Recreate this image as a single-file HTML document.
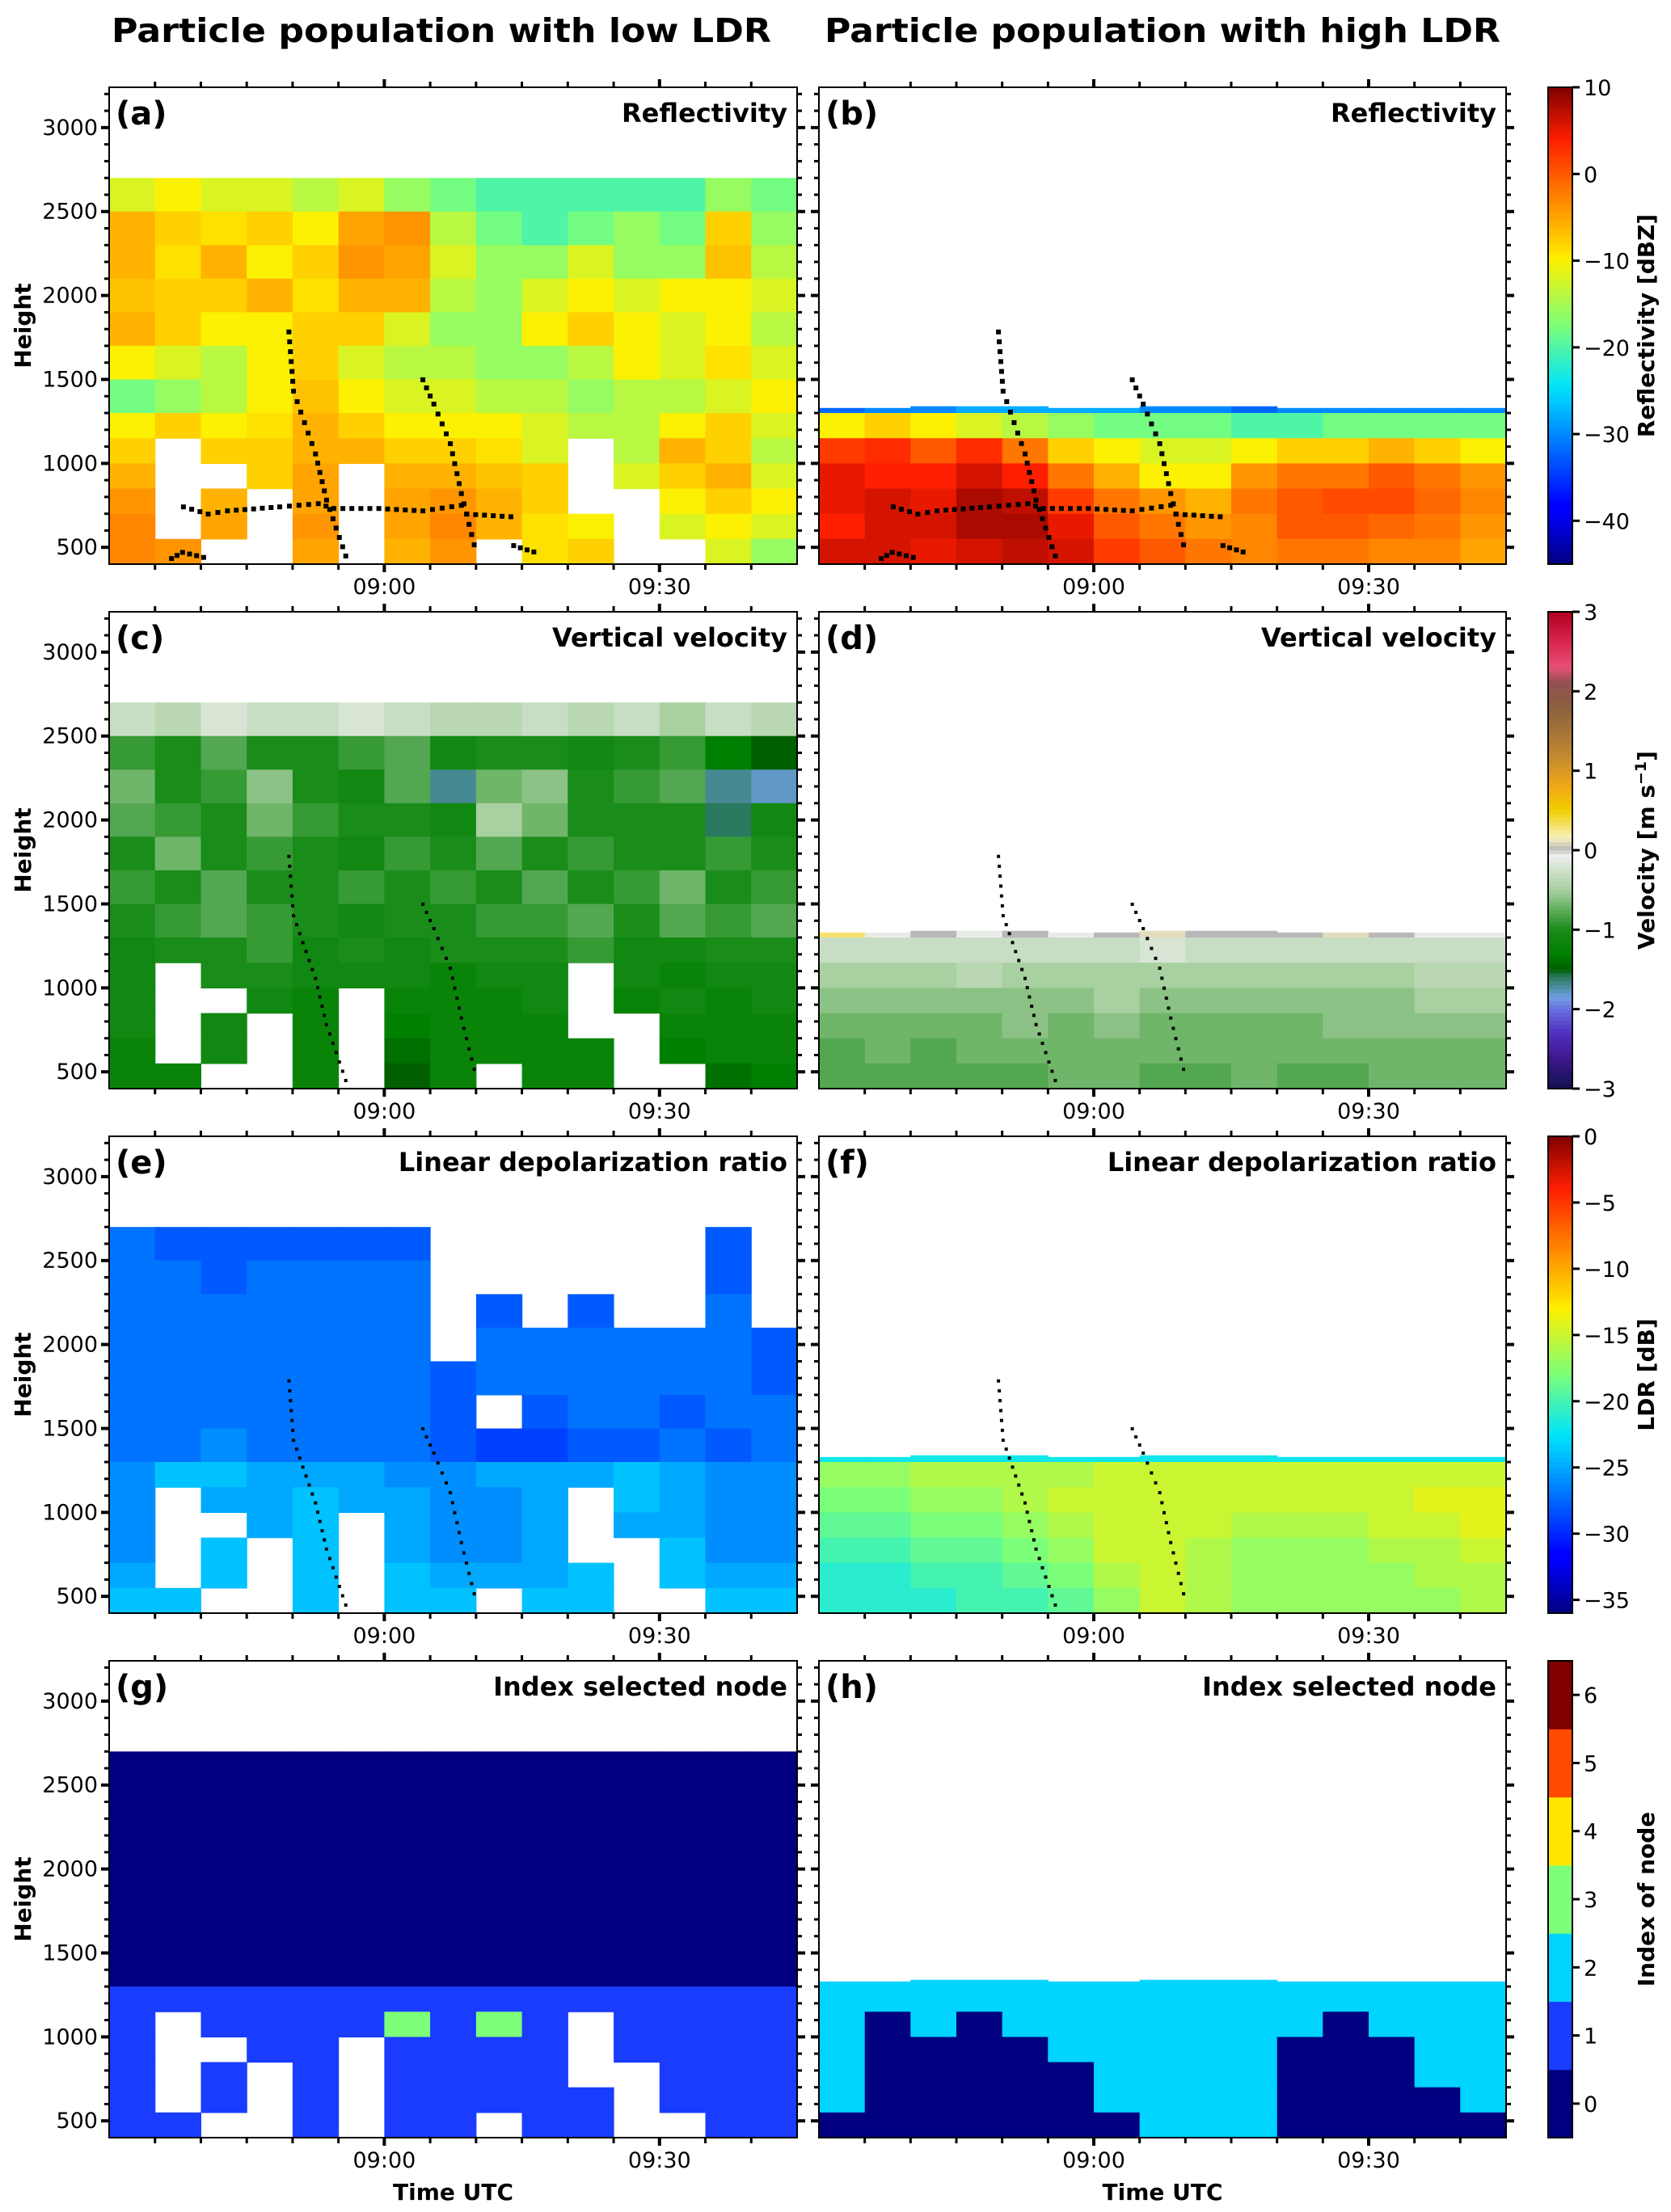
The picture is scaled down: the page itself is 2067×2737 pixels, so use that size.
<!DOCTYPE html>
<html><head><meta charset="utf-8"><title>Particle populations</title>
<style>
html,body{margin:0;padding:0;background:#fff;}
svg{display:block;font-family:"DejaVu Sans","Liberation Sans",sans-serif;}
</style></head>
<body>
<svg id="fig" width="2067" height="2737" viewBox="0 0 2067 2737" xmlns="http://www.w3.org/2000/svg">
<text x="546" y="52" text-anchor="middle" font-size="41" font-weight="bold" textLength="816" lengthAdjust="spacingAndGlyphs">Particle population with low LDR</text>
<text x="1438" y="52" text-anchor="middle" font-size="41" font-weight="bold" textLength="836" lengthAdjust="spacingAndGlyphs">Particle population with high LDR</text>
</svg>
<script>
// ---------- data ----------
// time axis: minutes after 08:30 (08:30 - 09:45)
const timeBins = [0,5,10,15,20,25,30,35,40,45,50,55,60,65,70,75];
// height bin edges (m), bottom to top
const heightEdges = [400,550,700,850,1000,1150,1300,1500,1700,1900,2100,2300,2500,2700];
const xTickLabels = ["09:00","09:30"];
const xTickMinutes = [30,60];
const yTicks = [500,1000,1500,2000,2500,3000];
// grids: rows listed from TOP (2500-2700) to BOTTOM (400-550); null = no signal
const reflLow = [
[-12,-10,-12,-12,-14,-12,-16,-18,-20,-20,-20,-20,-20,-16,-18],
[-6,-8,-9,-8,-10,-5,-4,-14,-18,-20,-18,-16,-18,-8,-16],
[-6,-9,-6,-10,-8,-4,-5,-12,-16,-16,-12,-16,-16,-7,-14],
[-7,-8,-8,-6,-9,-6,-6,-14,-16,-12,-10,-12,-10,-10,-12],
[-6,-8,-10,-10,-8,-8,-12,-16,-16,-10,-8,-10,-12,-10,-14],
[-10,-12,-14,-10,-8,-12,-14,-14,-16,-16,-14,-10,-12,-9,-12],
[-18,-16,-14,-10,-7,-10,-12,-12,-14,-14,-16,-14,-14,-12,-10],
[-10,-8,-10,-9,-6,-8,-10,-10,-10,-12,-14,-14,-10,-8,-12],
[-8,null,-8,-8,-6,-6,-8,-8,-9,-12,null,-14,-6,-8,-14],
[-6,null,null,-8,-5,null,-6,-6,-7,-8,null,-12,-8,-6,-12],
[-4,null,-6,null,-5,null,-5,-4,-6,-8,null,null,-10,-8,-10],
[-3,null,-5,null,-4,null,-5,-3,-6,-9,-10,null,-12,-10,-12],
[-3,-4,null,null,-5,null,-6,-4,null,-9,-8,null,null,-12,-16]];
// right panels: rows from 1300-1500 (clipped at cloud top) down to 400-550
const reflHigh = [
[-32,-30,-30,-28,-28,-28,-28,-30,-30,-32,-30,-30,-30,-30,-30],
[-10,-8,-10,-12,-14,-16,-18,-18,-18,-20,-20,-18,-18,-18,-18],
[2,3,0,3,-2,-8,-10,-12,-12,-10,-8,-8,-6,-8,-10],
[5,4,4,6,4,-2,-6,-10,-10,-4,-2,-2,0,-2,-4],
[5,6,5,8,7,2,-2,-4,-6,-2,0,1,1,-1,-3],
[4,6,6,8,8,5,0,-2,-4,-3,0,0,-1,-2,-4],
[6,6,5,6,7,6,2,0,-2,-3,-2,-2,-3,-3,-5]];
const velLow = [
[-0.3,-0.4,-0.2,-0.3,-0.3,-0.2,-0.3,-0.4,-0.4,-0.3,-0.4,-0.3,-0.5,-0.3,-0.4],
[-0.9,-1.0,-0.8,-1.0,-1.0,-0.9,-0.8,-1.1,-1.0,-1.0,-1.1,-1.0,-0.9,-1.3,-1.5],
[-0.7,-1.0,-0.9,-0.6,-1.0,-1.1,-0.8,-1.7,-0.7,-0.6,-1.0,-0.9,-0.8,-1.7,-1.8],
[-0.8,-0.9,-1.0,-0.7,-0.9,-1.0,-1.0,-1.1,-0.5,-0.7,-1.0,-1.0,-1.0,-1.6,-1.1],
[-1.0,-0.7,-1.0,-0.9,-1.0,-1.1,-0.9,-1.0,-0.8,-1.0,-0.9,-1.0,-1.0,-0.9,-1.0],
[-0.9,-1.0,-0.8,-1.0,-1.0,-0.9,-1.0,-0.9,-1.0,-0.8,-1.0,-0.9,-0.7,-1.0,-0.9],
[-1.0,-0.9,-0.8,-0.9,-1.0,-1.1,-1.0,-1.0,-0.9,-0.9,-0.8,-1.0,-0.8,-0.9,-0.8],
[-1.1,-1.0,-1.0,-0.9,-1.1,-1.0,-1.1,-1.0,-1.0,-1.0,-0.9,-1.1,-1.1,-1.0,-1.0],
[-1.1,null,-1.0,-1.0,-1.1,-1.1,-1.1,-1.2,-1.1,-1.1,null,-1.1,-1.2,-1.1,-1.1],
[-1.1,null,null,-1.1,-1.2,null,-1.2,-1.2,-1.2,-1.1,null,-1.2,-1.1,-1.2,-1.1],
[-1.1,null,-1.1,null,-1.2,null,-1.3,-1.2,-1.2,-1.2,null,null,-1.2,-1.2,-1.2],
[-1.2,null,-1.1,null,-1.2,null,-1.4,-1.2,-1.2,-1.2,-1.2,null,-1.3,-1.2,-1.2],
[-1.2,-1.2,null,null,-1.2,null,-1.5,-1.2,null,-1.2,-1.2,null,null,-1.4,-1.3]];
const velHigh = [
[0.3,-0.1,0,-0.1,0,-0.1,0,0.1,0,0,0,0.1,0,-0.1,-0.1],
[-0.3,-0.3,-0.3,-0.3,-0.3,-0.3,-0.3,-0.2,-0.3,-0.3,-0.3,-0.3,-0.3,-0.3,-0.3],
[-0.5,-0.5,-0.5,-0.4,-0.5,-0.5,-0.5,-0.5,-0.5,-0.5,-0.5,-0.5,-0.5,-0.4,-0.4],
[-0.6,-0.6,-0.6,-0.6,-0.6,-0.6,-0.5,-0.6,-0.6,-0.6,-0.6,-0.6,-0.6,-0.5,-0.5],
[-0.7,-0.7,-0.7,-0.7,-0.6,-0.7,-0.6,-0.7,-0.7,-0.7,-0.7,-0.6,-0.6,-0.6,-0.6],
[-0.8,-0.7,-0.8,-0.7,-0.7,-0.7,-0.7,-0.7,-0.7,-0.7,-0.7,-0.7,-0.7,-0.7,-0.7],
[-0.8,-0.8,-0.8,-0.8,-0.8,-0.7,-0.7,-0.8,-0.8,-0.7,-0.8,-0.8,-0.7,-0.7,-0.7]];
const ldrLow = [
[-27,-28,-28,-28,-28,-28,-28,null,null,null,null,null,null,-28,null],
[-27,-27,-28,-27,-27,-27,-27,null,null,null,null,null,null,-28,null],
[-27,-27,-27,-27,-27,-27,-27,null,-28,null,-28,null,null,-27,null],
[-27,-27,-27,-27,-27,-27,-27,null,-27,-27,-27,-27,-27,-27,-28],
[-27,-27,-27,-27,-27,-27,-27,-28,-27,-27,-27,-27,-27,-27,-28],
[-27,-27,-27,-27,-27,-27,-27,-28,null,-28,-27,-27,-28,-27,-27],
[-27,-27,-26,-27,-27,-27,-27,-28,-29,-29,-28,-28,-27,-28,-27],
[-26,-24,-24,-25,-25,-25,-26,-26,-25,-25,-25,-24,-25,-26,-26],
[-26,null,-25,-25,-24,-25,-25,-26,-26,-25,null,-24,-25,-26,-26],
[-26,null,null,-25,-24,null,-25,-26,-26,-25,null,-25,-25,-26,-26],
[-26,null,-24,null,-24,null,-25,-26,-26,-25,null,null,-24,-26,-26],
[-25,null,-24,null,-24,null,-24,-25,-25,-25,-24,null,-24,-25,-25],
[-24,-24,null,null,-24,null,-24,-24,null,-24,-24,null,null,-24,-24]];
const ldrHigh = [
[-22,-22,-22,-22,-22,-22,-22,-22,-22,-22,-22,-22,-22,-22,-22],
[-17,-17,-16,-16,-16,-16,-15,-15,-15,-15,-15,-15,-15,-15,-15],
[-18,-18,-17,-17,-16,-15,-15,-15,-15,-15,-15,-15,-15,-14,-14],
[-19,-19,-18,-18,-17,-16,-15,-15,-15,-16,-16,-16,-15,-15,-14],
[-20,-20,-19,-19,-18,-17,-15,-15,-16,-17,-17,-17,-16,-16,-15],
[-21,-21,-20,-20,-19,-18,-16,-15,-16,-17,-17,-17,-17,-16,-16],
[-21,-21,-21,-20,-20,-19,-17,-15,-16,-17,-17,-17,-17,-17,-16]];
const nodeLow = [
[0,0,0,0,0,0,0,0,0,0,0,0,0,0,0],
[0,0,0,0,0,0,0,0,0,0,0,0,0,0,0],
[0,0,0,0,0,0,0,0,0,0,0,0,0,0,0],
[0,0,0,0,0,0,0,0,0,0,0,0,0,0,0],
[0,0,0,0,0,0,0,0,0,0,0,0,0,0,0],
[0,0,0,0,0,0,0,0,0,0,0,0,0,0,0],
[0,0,0,0,0,0,0,0,0,0,0,0,0,0,0],
[1,1,1,1,1,1,1,1,1,1,1,1,1,1,1],
[1,null,1,1,1,1,3,1,3,1,null,1,1,1,1],
[1,null,null,1,1,null,1,1,1,1,null,1,1,1,1],
[1,null,1,null,1,null,1,1,1,1,null,null,1,1,1],
[1,null,1,null,1,null,1,1,1,1,1,null,1,1,1],
[1,1,null,null,1,null,1,1,null,1,1,null,null,1,1]];
const nodeHigh = [
[2,2,2,2,2,2,2,2,2,2,2,2,2,2,2],
[2,2,2,2,2,2,2,2,2,2,2,2,2,2,2],
[2,0,2,0,2,2,2,2,2,2,2,0,2,2,2],
[2,0,0,0,0,2,2,2,2,2,0,0,0,2,2],
[2,0,0,0,0,0,2,2,2,2,0,0,0,2,2],
[2,0,0,0,0,0,2,2,2,2,0,0,0,0,2],
[0,0,0,0,0,0,0,2,2,2,0,0,0,0,0]];
const cloudTopLow = [2700,2700,2700,2700,2700,2700,2700,2700,2700,2700,2700,2700,2700,2700,2700];
const cloudTopHigh = [1330,1330,1340,1340,1340,1330,1330,1340,1340,1340,1330,1330,1330,1330,1330];
// fall-streak trajectories (minutes after 08:30, height m)
const traj1T = [19.6,20.1,22.5,23.7,25.8];
const traj1H = [1783,1430,1056,781,448];
const traj2T = [34.2,35.4,37.2,38.4,39.8];
const traj2H = [1498,1353,1117,820,515];
const traj3T = [8.1,10.8,12.9,18.6,22.8,24.5,29.4,34.2,38.4,39.0,43.8];
const traj3H = [741,698,717,741,760,731,731,717,750,698,682];
const traj4T = [44.1,46.3];
const traj4H = [510,472];
const traj5T = [6.8,8.0,10.3];
const traj5H = [433,470,440];
// colorbar ticks
const cbReflTicks = [10,0,-10,-20,-30,-40];
const cbVelTicks = [3,2,1,0,-1,-2,-3];
const cbLdrTicks = [0,-5,-10,-15,-20,-25,-30,-35];
const cbNodeTicks = [0,1,2,3,4,5,6];

// ---------- layout ----------
const NS = "http://www.w3.org/2000/svg";
const svg = document.getElementById('fig');
const colX = [[135,986],[1013,1863]];
const rowY = [108,757,1406,2055];
const PH = 590, HMIN = 400, HMAX = 3240, TMAX = 75;
const CBX = 1915, CBW = 30;

function el(tag, attrs, parent){ const e=document.createElementNS(NS,tag); for(const k in attrs) e.setAttribute(k,attrs[k]); (parent||svg).appendChild(e); return e; }
function xS(col,t){ const [l,r]=colX[col]; return l+(t/TMAX)*(r-l); }
function yS(row,h){ return rowY[row]+(HMAX-h)/(HMAX-HMIN)*PH; }

function lerpStops(stops,v){
  if(v<=stops[0][0]) return 'rgb('+stops[0][1].join(',')+')';
  for(let i=1;i<stops.length;i++){ if(v<=stops[i][0]){ const [a,ca]=stops[i-1],[b,cb]=stops[i]; const f=(v-a)/(b-a); return 'rgb('+ca.map((c,j)=>Math.round(c+(cb[j]-c)*f)).join(',')+')'; } }
  return 'rgb('+stops[stops.length-1][1].join(',')+')';
}
const jetStops=[[0,[0,0,128]],[0.11,[0,0,255]],[0.125,[0,0,255]],[0.34,[0,200,255]],[0.375,[0,228,248]],[0.5,[124,255,121]],[0.64,[255,240,0]],[0.66,[255,220,0]],[0.89,[255,30,0]],[1,[128,0,0]]];
function jet(f){ return lerpStops(jetStops,f); }
const velStops=[[-3,[16,16,80]],[-2.6,[64,24,144]],[-2.3,[80,48,192]],[-2,[106,112,224]],[-1.85,[112,160,224]],[-1.6,[42,122,96]],[-1.5,[0,96,0]],[-1.3,[0,128,0]],[-1,[26,140,26]],[-0.5,[168,208,160]],[-0.05,[240,240,240]],[0,[184,184,184]],[0.15,[248,240,192]],[0.5,[240,208,0]],[0.8,[240,168,24]],[1.2,[192,136,48]],[1.8,[138,96,64]],[2.1,[144,80,80]],[2.3,[232,80,120]],[2.6,[216,40,80]],[3,[176,0,32]]];
const nodeColors=['#000080','#1a3cff','#00d4ff','#7dff7a','#ffe600','#ff4a00','#800000'];
const cmaps = {
  refl: v=>jet((v+45)/55),
  vel: v=>lerpStops(velStops,v),
  ldr: v=>jet((v+36)/36),
  node: v=>nodeColors[Math.max(0,Math.min(6,Math.round(v)))]
};

function drawGrid(col,row,grid,top,cmap,name){
  const g=el('g',{});
  
  
  const nRows=grid.length, nEdges=heightEdges.length;
  for(let i=0;i<nRows;i++){
    const hTop=heightEdges[nEdges-1-i-(13-nRows)], hBot=heightEdges[nEdges-2-i-(13-nRows)];
    for(let j=0;j<grid[i].length;j++){
      const v=grid[i][j]; if(v===null) continue;
      const ht=Math.min(hTop,top[j]); if(ht<=hBot) continue;
      const x0=xS(col,timeBins[j]), x1=xS(col,timeBins[j+1]);
      const r=el('rect',{x:x0.toFixed(1),y:yS(row,ht).toFixed(1),width:(x1-x0+0.6).toFixed(1),height:(yS(row,hBot)-yS(row,ht)+0.6).toFixed(1),fill:cmap(v)},g);
      
      
    }
  }
}
function drawTraj(col,row,T,H,sz,gap){
  const g=el('g',{fill:'#000'});
  
  
  for(let i=0;i<T.length-1;i++){
    const x0=xS(col,T[i]),y0=yS(row,H[i]),x1=xS(col,T[i+1]),y1=yS(row,H[i+1]);
    const L=Math.hypot(x1-x0,y1-y0), n=Math.max(1,Math.round(L/gap));
    for(let k=0;k<n;k++){ const f=k/n; el('rect',{x:(x0+(x1-x0)*f-sz/2).toFixed(1),y:(y0+(y1-y0)*f-sz/2).toFixed(1),width:sz,height:sz},g); }
  }
  const i=T.length-1; el('rect',{x:(xS(col,T[i])-sz/2).toFixed(1),y:(yS(row,H[i])-sz/2).toFixed(1),width:sz,height:sz},g);
}
function drawAxes(col,row,label,title,showLeftLabels,name){
  const [l,r]=colX[col], t=rowY[row], b=t+PH;
  const g=el('g',{stroke:'#000'});
  
  
  el('rect',{x:l,y:t,width:r-l,height:PH,fill:'none','stroke-width':2},g);
  for(let m=5;m<TMAX;m+=5){ const x=xS(col,m), maj=(m%30===0); const len=maj?10:7, w=maj?4:3;
    el('line',{x1:x,x2:x,y1:b,y2:b+len,'stroke-width':w},g); el('line',{x1:x,x2:x,y1:t,y2:t-len,'stroke-width':w},g); }
  for(let h=500;h<=3200;h+=100){ const y=yS(row,h), maj=(h%500===0); const len=maj?10:6, w=maj?4:3;
    el('line',{x1:l,x2:l-len,y1:y,y2:y,'stroke-width':w},g); el('line',{x1:r,x2:r+len,y1:y,y2:y,'stroke-width':w},g); }
  xTickMinutes.forEach((m,i)=>{ const tx=el('text',{x:xS(col,m),y:b+37,'text-anchor':'middle','font-size':27,stroke:'none'}); tx.textContent=xTickLabels[i];
    
     });
  if(showLeftLabels){
    yTicks.forEach(h=>{ const tx=el('text',{x:l-14,y:yS(row,h)+9,'text-anchor':'end','font-size':27}); tx.textContent=h;
      
       });
    const yl=el('text',{x:0,y:0,transform:`translate(38,${t+PH/2}) rotate(-90)`,'text-anchor':'middle','font-size':28,'font-weight':'bold'}); yl.textContent='Height';
    
    
  }
  const pl=el('text',{x:l+8,y:t+46,'font-size':40,'font-weight':'bold'}); pl.textContent=label;
  
  
  const pt=el('text',{x:r-12,y:t+43,'text-anchor':'end','font-size':32,'font-weight':'bold'}); pt.textContent=title;
  
  
}
function drawColorbar(row,vmin,vmax,cmap,ticks,label,name,discrete){
  const t=rowY[row], g=el('g',{});
  
  
  const vy=v=>t+(vmax-v)/(vmax-vmin)*PH;
  if(discrete){ for(let k=0;k<=6;k++){ el('rect',{x:CBX,y:vy(k+0.5),width:CBW,height:vy(k-0.5)-vy(k+0.5)+0.5,fill:cmap(k)},g);} }
  else { const N=120; for(let k=0;k<N;k++){ const v=vmax-(k+0.5)*(vmax-vmin)/N; el('rect',{x:CBX,y:t+k*PH/N,width:CBW,height:PH/N+0.6,fill:cmap(v)},g);} }
  el('rect',{x:CBX,y:t,width:CBW,height:PH,fill:'none',stroke:'#000','stroke-width':2},g);
  ticks.forEach(v=>{ const y=vy(v); el('line',{x1:CBX+CBW,x2:CBX+CBW+9,y1:y,y2:y,stroke:'#000','stroke-width':3},g);
    const tx=el('text',{x:CBX+CBW+14,y:y+10,'font-size':27},g); tx.textContent=(v<0?'\u2212'+(-v):String(v));
    
     });
  const lb=el('text',{x:0,y:0,transform:`translate(2046,${t+PH/2}) rotate(-90)`,'text-anchor':'middle','font-size':28,'font-weight':'bold'},g);
  if(label==='vel'){ lb.innerHTML='Velocity [m s<tspan dy="-10" font-size="19">\u22121</tspan><tspan dy="10">]</tspan>'; } else lb.textContent=label;
  
  
}

// ---------- draw ----------
const panels=[
 [0,0,reflLow,cloudTopLow,'refl','(a)','Reflectivity','panel-a'],
 [1,0,reflHigh,cloudTopHigh,'refl','(b)','Reflectivity','panel-b'],
 [0,1,velLow,cloudTopLow,'vel','(c)','Vertical velocity','panel-c'],
 [1,1,velHigh,cloudTopHigh,'vel','(d)','Vertical velocity','panel-d'],
 [0,2,ldrLow,cloudTopLow,'ldr','(e)','Linear depolarization ratio','panel-e'],
 [1,2,ldrHigh,cloudTopHigh,'ldr','(f)','Linear depolarization ratio','panel-f'],
 [0,3,nodeLow,cloudTopLow,'node','(g)','Index selected node','panel-g'],
 [1,3,nodeHigh,cloudTopHigh,'node','(h)','Index selected node','panel-h']];
panels.forEach(p=>{
  const [col,row,grid,top,cm,lab,title,name]=p;
  drawGrid(col,row,grid,top,cmaps[cm],name);
  if(row<3){
    const big=(row===0);
    drawTraj(col,row,traj1T,traj1H,big?6:4,big?13:12);
    drawTraj(col,row,traj2T,traj2H,big?6:4,big?13:12);
    if(big){ drawTraj(col,row,traj3T,traj3H,6,11); drawTraj(col,row,traj4T,traj4H,6,10); drawTraj(col,row,traj5T,traj5H,6,10); }
  }
  drawAxes(col,row,lab,title,col===0,name);
});
drawColorbar(0,-45,10,cmaps.refl,cbReflTicks,'Reflectivity [dBZ]','colorbar-reflectivity',false);
drawColorbar(1,-3,3,cmaps.vel,cbVelTicks,'vel','colorbar-velocity',false);
drawColorbar(2,-36,0,cmaps.ldr,cbLdrTicks,'LDR [dB]','colorbar-ldr',false);
drawColorbar(3,-0.5,6.5,cmaps.node,cbNodeTicks,'Index of node','colorbar-node',true);
['x-axis-title-left','x-axis-title-right'].forEach((n,i)=>{
  const tx=el('text',{x:(colX[i][0]+colX[i][1])/2,y:2722,'text-anchor':'middle','font-size':28,'font-weight':'bold'});
  tx.textContent='Time UTC';
  
  
});
</script>
</body></html>
